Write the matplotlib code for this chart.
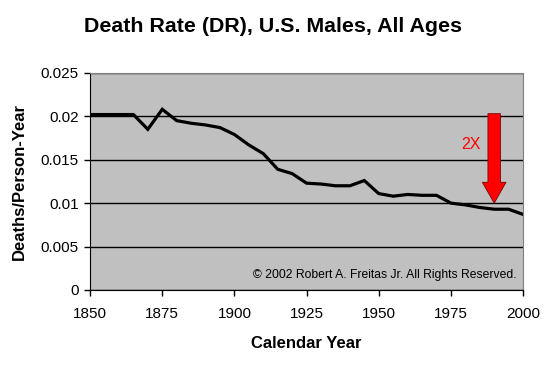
import matplotlib.pyplot as plt
import numpy as np

plt.rcParams['font.family'] = ['Liberation Sans', 'DejaVu Sans']

years = [1850, 1855, 1860, 1865, 1870, 1875, 1880, 1885, 1890, 1895, 1900,
         1905, 1910, 1915, 1920, 1925, 1930, 1935, 1940, 1945, 1950, 1955,
         1960, 1965, 1970, 1975, 1980, 1985, 1990, 1995, 2000]
death_rate = [0.0202, 0.0202, 0.0202, 0.0202, 0.0185, 0.0208, 0.0195, 0.0192,
              0.0190, 0.0187, 0.0179, 0.0167, 0.0157, 0.0139, 0.0134, 0.0123,
              0.0122, 0.0120, 0.0120, 0.0126, 0.0111, 0.0108, 0.0110, 0.0109,
              0.0109, 0.0100, 0.0098, 0.0095, 0.0093, 0.0093, 0.0087]

fig = plt.figure(figsize=(5.46, 3.68), dpi=100)
ax = fig.add_axes([0.165, 0.212, 0.793, 0.59])
ax.set_facecolor('#C0C0C0')

ax.plot(years, death_rate, color='black', lw=2.3, solid_joinstyle='miter')

ax.set_xlim(1850, 2000)
ax.set_ylim(0, 0.025)
ax.set_xticks(np.arange(1850, 2001, 25))
ax.set_yticks([0, 0.005, 0.01, 0.015, 0.02, 0.025])
ax.set_yticklabels(['0', '0.005', '0.01', '0.015', '0.02', '0.025'])
ax.yaxis.grid(True, color='black', lw=1)
ax.set_axisbelow(True)
ax.tick_params(labelsize=11, length=4, width=1, colors='black')
ax.tick_params(axis='x', pad=8)
ax.tick_params(axis='y', pad=4)

for s in ['top', 'right']:
    ax.spines[s].set_color('#808080')
for s in ['left', 'bottom']:
    ax.spines[s].set_color('black')

ax.set_xlabel('Calendar Year', fontsize=12, fontweight='bold', labelpad=11)
ax.set_ylabel('Deaths/Person-Year', fontsize=12, fontweight='bold', labelpad=10)
fig.text(0.5, 0.928, 'Death Rate (DR), U.S. Males, All Ages', fontsize=15.4,
         fontweight='bold', ha='center', va='center')

# the 2X arrow
ax.annotate('', xy=(1990, 0.0100), xytext=(1990, 0.0203),
            arrowprops=dict(facecolor='red', edgecolor='#800000', lw=0.6,
                            width=9, headwidth=17, headlength=15))
ax.text(1982, 0.0167, '2X', color='red', fontsize=11.5, ha='center', va='center')

ax.text(0.986, 0.069, '\u00a9 2002 Robert A. Freitas Jr. All Rights Reserved.',
        transform=ax.transAxes, ha='right', va='center', fontsize=8.7)

fig.savefig('out.png', dpi=100, facecolor='white')
